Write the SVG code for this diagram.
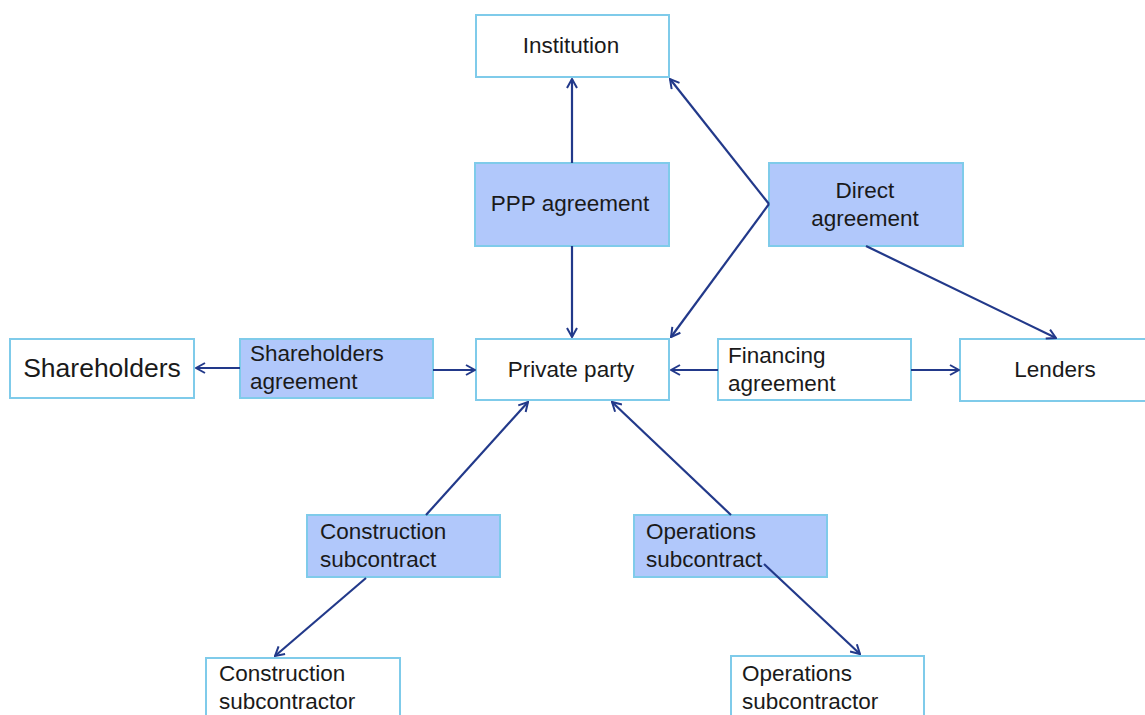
<svg xmlns="http://www.w3.org/2000/svg" width="1145" height="715" viewBox="0 0 1145 715">
<defs>
<style>
.box{fill:#ffffff;stroke:#7fcbea;stroke-width:2}
.ag{fill:#b1c8fb;stroke:#7fcbea;stroke-width:2}
.t{font-family:"Liberation Sans",Arial,sans-serif;font-size:22.5px;fill:#1a1a1a}
.c{text-anchor:middle}
.ln{stroke:#22398a;stroke-width:2.2;fill:none;marker-end:url(#ah)}
</style>
<marker id="ah" viewBox="0 0 12 12" refX="11" refY="6" markerWidth="12" markerHeight="12" markerUnits="userSpaceOnUse" orient="auto">
<path d="M2,1 L11,6 L2,11" fill="none" stroke="#22398a" stroke-width="2"/>
</marker>
</defs>
<rect width="1145" height="715" fill="#ffffff"/>
<g id="institution"><rect class="box" x="476" y="15" width="193" height="62"/><text class="t c" x="571" y="53">Institution</text></g>
<g id="ppp-agreement"><rect class="ag" x="475" y="163" width="194" height="83"/><text class="t c" x="570" y="211">PPP agreement</text></g>
<g id="direct-agreement"><rect class="ag" x="769" y="163" width="194" height="83"/><text class="t c" x="865" y="198">Direct</text><text class="t c" x="865" y="226">agreement</text></g>
<g id="shareholders"><rect class="box" x="10" y="339" width="184" height="59"/><text class="t c" x="102" y="377" style="font-size:26.5px">Shareholders</text></g>
<g id="shareholders-agreement"><rect class="ag" x="240" y="339" width="193" height="59"/><text class="t" x="250" y="361">Shareholders</text><text class="t" x="250" y="389">agreement</text></g>
<g id="private-party"><rect class="box" x="476" y="339" width="193" height="61"/><text class="t c" x="571" y="377">Private party</text></g>
<g id="financing-agreement"><rect class="box" x="718" y="339" width="193" height="61"/><text class="t" x="728" y="363">Financing</text><text class="t" x="728" y="391">agreement</text></g>
<g id="lenders"><rect class="box" x="960" y="339" width="190" height="62"/><text class="t c" x="1055" y="377">Lenders</text></g>
<g id="construction-subcontract"><rect class="ag" x="307" y="515" width="193" height="62"/><text class="t" x="320" y="539">Construction</text><text class="t" x="320" y="567">subcontract</text></g>
<g id="operations-subcontract"><rect class="ag" x="634" y="515" width="193" height="62"/><text class="t" x="646" y="539">Operations</text><text class="t" x="646" y="567">subcontract</text></g>
<g id="construction-subcontractor"><rect class="box" x="206" y="658" width="194" height="70"/><text class="t" x="219" y="681">Construction</text><text class="t" x="219" y="709">subcontractor</text></g>
<g id="operations-subcontractor"><rect class="box" x="731" y="656" width="193" height="72"/><text class="t" x="742" y="681">Operations</text><text class="t" x="742" y="709">subcontractor</text></g>
<g id="connectors">
<line class="ln" x1="572" y1="163" x2="572" y2="79"/>
<line class="ln" x1="572" y1="246" x2="572" y2="337"/>
<line class="ln" x1="769" y1="204" x2="670" y2="79"/>
<line class="ln" x1="769" y1="204" x2="671" y2="337"/>
<line class="ln" x1="866" y1="246" x2="1056" y2="338"/>
<line class="ln" x1="240" y1="368" x2="196" y2="368"/>
<line class="ln" x1="433" y1="370" x2="475" y2="370"/>
<line class="ln" x1="718" y1="370" x2="671" y2="370"/>
<line class="ln" x1="911" y1="370" x2="959" y2="370"/>
<line class="ln" x1="426" y1="515" x2="528" y2="402"/>
<line class="ln" x1="731" y1="515" x2="612" y2="402"/>
<line class="ln" x1="366" y1="578" x2="275" y2="656"/>
<line class="ln" x1="764" y1="564" x2="860" y2="654"/>
</g>
</svg>
